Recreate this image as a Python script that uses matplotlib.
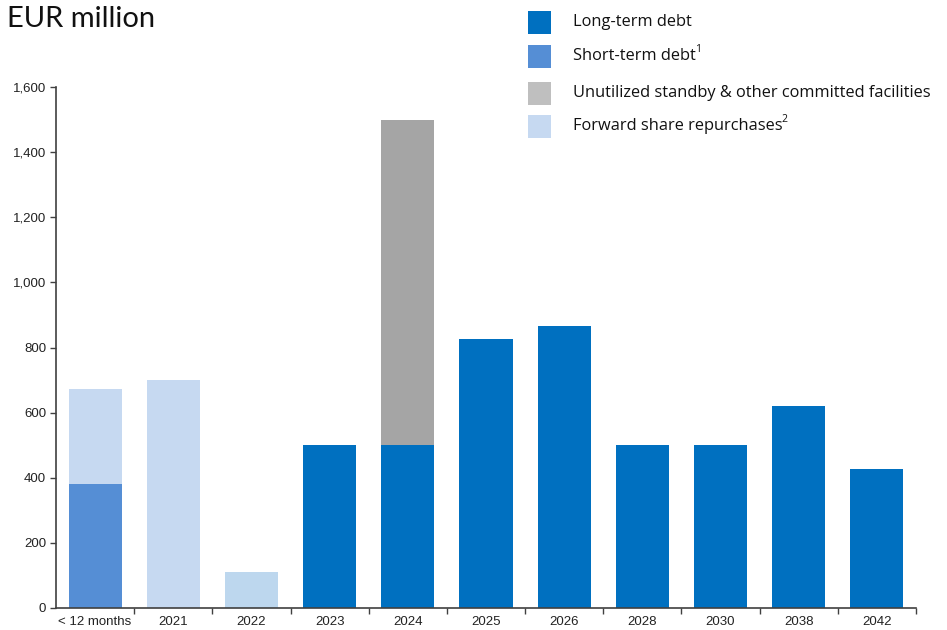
import matplotlib
matplotlib.use("Agg")
import matplotlib.pyplot as plt
from matplotlib.patches import Rectangle
import numpy as np

categories = ["< 12 months", "2021", "2022", "2023", "2024", "2025", "2026",
              "2028", "2030", "2038", "2042"]
long_term = [0, 0, 0, 500, 500, 826, 866, 500, 500, 620, 427]
short_term = [380, 0, 0, 0, 0, 0, 0, 0, 0, 0, 0]
unutilized = [0, 0, 0, 0, 1000, 0, 0, 0, 0, 0, 0]
forward = [293, 700, 112, 0, 0, 0, 0, 0, 0, 0, 0]

legend_labels = ["Long-term debt", "Short-term debt", "Unutilized standby & other committed facilities",
                 "Forward share repurchases"]
legend_sup = ["", "1", "", "2"]

c_long = "#0070C0"
c_short = "#558ED5"
c_unut_leg = "#BFBFBF"
c_unut_bar = "#A5A5A5"
c_fwd = "#C6D9F1"
fwd_colors = [c_fwd, c_fwd, "#BDD7EE"] + [c_fwd] * 8

fig = plt.figure(figsize=(9.47, 6.30), dpi=100)
ax = fig.add_axes([56/947, 22/630, 860/947, 521/630])

x = np.arange(len(categories))
w = 0.68
lt = np.array(long_term); st = np.array(short_term)
un = np.array(unutilized); fw = np.array(forward)
ax.bar(x, lt, w, color=c_long, linewidth=0)
ax.bar(x, st, w, bottom=lt, color=c_short, linewidth=0)
ax.bar(x, un, w, bottom=lt + st, color=c_unut_bar, linewidth=0)
ax.bar(x, fw, w, bottom=lt + st + un, color=fwd_colors, linewidth=0)

ax.set_xlim(-0.5, len(categories) - 0.5)
ax.set_ylim(0, 1600)
ax.set_yticks(np.arange(0, 1601, 200))
ax.set_yticklabels([f"{v:,}" for v in range(0, 1601, 200)])
ax.set_xticks(x)
ax.set_xticklabels(categories)
ax.set_xticks(np.arange(0.5, len(categories), 1.0), minor=True)
ax.tick_params(axis="x", which="major", length=0, pad=6, labelsize=9.5)
ax.tick_params(axis="x", which="minor", length=4, width=1, color="#404040")
ax.tick_params(axis="y", length=4, width=1, color="#404040", labelsize=9.5, pad=3)
for lab in ax.get_xticklabels() + ax.get_yticklabels():
    lab.set_fontfamily("Liberation Sans")
    lab.set_color("#222222")
for s in ["top", "right"]:
    ax.spines[s].set_visible(False)
for s in ["left", "bottom"]:
    ax.spines[s].set_color("#404040")
    ax.spines[s].set_linewidth(1.2)

fig.text(7/947, 1 - 19/630, "EUR million", fontsize=21, fontfamily="Lato",
         va="center", ha="left", color="#111111")

leg_colors = [c_long, c_short, c_unut_leg, c_fwd]
leg_y = [22, 56, 93, 126]
for col, lab, sup, yy in zip(leg_colors, legend_labels, legend_sup, leg_y):
    fig.patches.append(Rectangle((528/947, 1 - (yy + 11.5)/630), 23/947, 23/630,
                                 transform=fig.transFigure, color=col, linewidth=0))
    t = fig.text(573/947, 1 - yy/630, lab, fontsize=11.8, fontfamily="Open Sans",
                 va="center", ha="left", color="#111111")
    if sup:
        fig.canvas.draw()
        bb = t.get_window_extent()
        fig.text((bb.x1 - 1)/947, 1 - (yy - 6)/630, sup, fontsize=7.5,
                 fontfamily="Open Sans", va="center", ha="left", color="#111111")

fig.savefig("out.png", dpi=100)
